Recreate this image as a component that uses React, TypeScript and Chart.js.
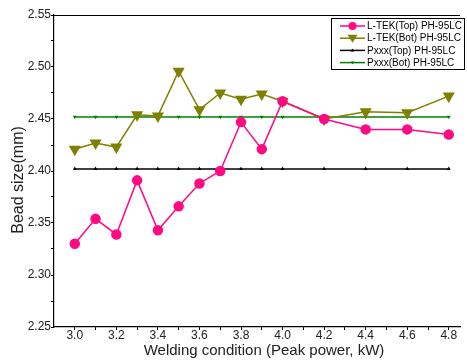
import React, { useEffect, useRef } from "react";
import { Chart, registerables } from "chart.js";

Chart.register(...registerables);

const xValues = [3.0, 3.1, 3.2, 3.3, 3.4, 3.5, 3.6, 3.7, 3.8, 3.9, 4.0, 4.2, 4.4, 4.6, 4.8];
const lTekTop = [2.330, 2.354, 2.339, 2.391, 2.343, 2.366, 2.388, 2.400, 2.447, 2.421, 2.467, 2.450, 2.440, 2.440, 2.435];
const lTekBot = [2.421, 2.427, 2.423, 2.454, 2.453, 2.496, 2.459, 2.475, 2.469, 2.474, 2.467, 2.450, 2.457, 2.456, 2.472];
const pxxxTop = [2.402, 2.402, 2.402, 2.402, 2.402, 2.402, 2.402, 2.402, 2.402, 2.402, 2.402, 2.402, 2.402, 2.402, 2.402];
const pxxxBot = [2.452, 2.452, 2.452, 2.452, 2.452, 2.452, 2.452, 2.452, 2.452, 2.452, 2.452, 2.452, 2.452, 2.452, 2.452];
const seriesNames = ["L-TEK(Top) PH-95LC", "L-TEK(Bot) PH-95LC", "Pxxx(Top) PH-95LC", "Pxxx(Bot) PH-95LC"];
const xTitle = "Welding condition (Peak power, kW)";
const yTitle = "Bead size(mm)";
const xTickValues = [3.0, 3.1, 3.2, 3.3, 3.4, 3.5, 3.6, 3.7, 3.8, 3.9, 4.0, 4.1, 4.2, 4.3, 4.4, 4.5, 4.6, 4.7, 4.8];
const yTickValues = [2.25, 2.275, 2.3, 2.325, 2.35, 2.375, 2.4, 2.425, 2.45, 2.475, 2.5, 2.525, 2.55];

const FONT = "'Liberation Sans', Arial, sans-serif";
const PINK = "#ff0a82";
const OLIVE = "#808000";
const GREEN = "#008000";

const toPts = (ys: number[]) => ys.map((y, i) => ({ x: xValues[i], y }));

const legendPlugin = {
  id: "boxLegend",
  afterDraw(chart: any) {
    const ctx = chart.ctx;
    const ca = chart.chartArea;
    ctx.save();
    // top frame line
    ctx.strokeStyle = "#000";
    ctx.lineWidth = 1;
    ctx.beginPath();
    ctx.moveTo(ca.left, ca.top + 0.5);
    ctx.lineTo(ca.right, ca.top + 0.5);
    ctx.stroke();

    // axis titles
    ctx.fillStyle = "#222";
    ctx.textAlign = "center";
    ctx.textBaseline = "middle";
    ctx.font = `15px ${FONT}`;
    ctx.fillText(xTitle, 264, 351);
    ctx.save();
    ctx.translate(18.5, 180);
    ctx.rotate(-Math.PI / 2);
    ctx.font = `16px ${FONT}`;
    ctx.fillText(yTitle, 0, 0);
    ctx.restore();

    const bx = 331.5, by = 18.5, bw = 133, bh = 51;
    ctx.fillStyle = "#fff";
    ctx.fillRect(bx, by, bw, bh);
    ctx.strokeStyle = "#000";
    ctx.lineWidth = 1;
    ctx.strokeRect(bx, by, bw, bh);
    const colors = [PINK, OLIVE, "#000", GREEN];
    ctx.font = `10px ${FONT}`;
    ctx.textBaseline = "middle";
    ctx.textAlign = "left";
    for (let i = 0; i < 4; i++) {
      const y = 26 + i * 12.2;
      ctx.strokeStyle = colors[i];
      ctx.fillStyle = colors[i];
      ctx.lineWidth = 1.5;
      ctx.beginPath();
      ctx.moveTo(340, y);
      ctx.lineTo(365, y);
      ctx.stroke();
      const cx = 352.5;
      if (i === 0) {
        ctx.beginPath();
        ctx.arc(cx, y, 4, 0, Math.PI * 2);
        ctx.fill();
      } else if (i === 1) {
        ctx.beginPath();
        ctx.moveTo(cx - 5, y - 3.5);
        ctx.lineTo(cx + 5, y - 3.5);
        ctx.lineTo(cx, y + 4.5);
        ctx.closePath();
        ctx.fill();
      } else if (i === 2) {
        ctx.beginPath();
        ctx.moveTo(cx - 1.8, y + 1.2);
        ctx.lineTo(cx + 1.8, y + 1.2);
        ctx.lineTo(cx, y - 2);
        ctx.closePath();
        ctx.fill();
      } else {
        ctx.beginPath();
        ctx.moveTo(cx - 1.8, y - 1.2);
        ctx.lineTo(cx + 1.8, y - 1.2);
        ctx.lineTo(cx, y + 2);
        ctx.closePath();
        ctx.fill();
      }
      ctx.fillStyle = "#000";
      ctx.fillText(seriesNames[i], 367, y + 0.5);
    }
    ctx.restore();
  },
};

export default function App() {
  const ref = useRef<HTMLCanvasElement | null>(null);
  useEffect(() => {
    document.body.style.margin = "0";
    const canvas = ref.current!;
    const chart = new Chart(canvas, {
      type: "line",
      data: {
        datasets: [
          {
            label: seriesNames[0],
            data: toPts(lTekTop),
            borderColor: PINK,
            backgroundColor: PINK,
            pointBackgroundColor: PINK,
            pointBorderColor: PINK,
            pointRadius: 4.5,
            borderWidth: 1.5,
            order: 0,
          },
          {
            label: seriesNames[1],
            data: toPts(lTekBot),
            borderColor: OLIVE,
            backgroundColor: OLIVE,
            pointBackgroundColor: OLIVE,
            pointBorderColor: OLIVE,
            pointStyle: "triangle",
            rotation: 180,
            pointRadius: 5.5,
            borderWidth: 1.5,
            order: 1,
          },
          {
            label: seriesNames[2],
            data: toPts(pxxxTop),
            borderColor: "#000",
            backgroundColor: "#000",
            pointStyle: "triangle",
            pointRadius: 0.8,
            borderWidth: 1.5,
            order: 2,
          },
          {
            label: seriesNames[3],
            data: toPts(pxxxBot),
            borderColor: GREEN,
            backgroundColor: GREEN,
            pointStyle: "triangle",
            rotation: 180,
            pointRadius: 0.8,
            borderWidth: 1.5,
            order: 3,
          },
        ],
      },
      options: {
        responsive: false,
        animation: false,
        layout: { padding: { top: 15, right: 0, left: 0, bottom: 0 } },
        plugins: { legend: { display: false }, tooltip: { enabled: false } },
        scales: {
          x: {
            type: "linear",
            min: 2.9,
            max: 4.854,
            afterBuildTicks: (s: any) => {
              s.ticks = xTickValues.map((v) => ({ value: v }));
            },
            afterFit: (s: any) => {
              s.height = 35;
            },
            ticks: {
              autoSkip: false,
              maxRotation: 0,
              padding: -2,
              color: "#222",
              font: { family: FONT, size: 12 },
              callback: (v: any) => (Math.round(Number(v) * 10) % 2 === 0 ? Number(v).toFixed(1) : ""),
            },
            grid: { drawOnChartArea: false, drawTicks: true, tickLength: 3, color: "#000" },
            border: { display: true, color: "#000", width: 1.2 },
            title: { display: false },
          },
          y: {
            type: "linear",
            min: 2.25,
            max: 2.55,
            afterBuildTicks: (s: any) => {
              s.ticks = yTickValues.map((v) => ({ value: v }));
            },
            afterFit: (s: any) => {
              s.width = 54;
            },
            ticks: {
              padding: 0,
              color: "#222",
              font: { family: FONT, size: 12 },
              callback: (v: any) => (Math.round(Number(v) * 1000) % 50 === 0 ? Number(v).toFixed(2) : ""),
            },
            grid: { drawOnChartArea: false, drawTicks: true, tickLength: 3, color: "#000" },
            border: { display: true, color: "#000", width: 1.2 },
            title: { display: false },
          },
        },
      },
      plugins: [legendPlugin],
    } as any);
    return () => chart.destroy();
  }, []);
  return (
    <div style={{ width: 467, height: 362, position: "relative", background: "#fff" }}>
      <canvas ref={ref} width={467} height={362} style={{ display: "block" }} />
    </div>
  );
}
